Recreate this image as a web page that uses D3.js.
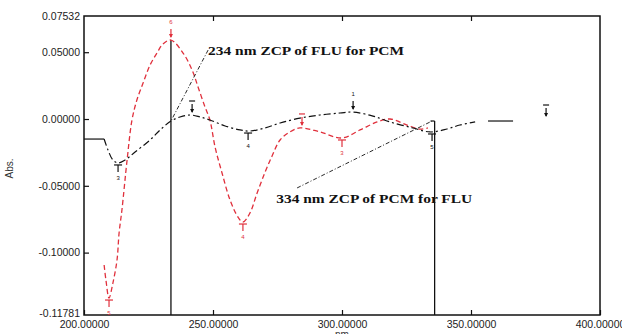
<!DOCTYPE html>
<meta charset="utf-8">
<script src="https://d3js.org/d3.v7.min.js"></script>
<style>
  body { margin: 0; background: #fff; }
  svg text { font-family: "Liberation Sans", Arial, sans-serif; }
</style>
<div id="chart"></div>
<script>
// wavelength (nm) / absorbance
var redNm  = [207.8, 208.5, 209.7, 211.2, 212.8, 213.6, 214.7, 216.7, 218.6, 220.5, 222.9, 225.6, 228.3, 230.6, 233.7,
              238.4, 241.9, 244.2, 246.9, 248.8, 250.8, 253.5, 256.6, 259.7, 261.6, 264.3, 267.1, 270.2, 272.9, 276.0,
              279.8, 283.7, 291.5, 300.0, 307.0, 313.6, 318.6, 325.2, 330.2, 333.3];
var redAbs = [-0.1093, -0.1205, -0.1340, -0.1228, -0.1055, -0.0853, -0.0681, -0.0307, -0.0007, 0.0142, 0.0269, 0.0404, 0.0494, 0.0561, 0.0591,
              0.0494, 0.0367, 0.0240, 0.0090, -0.0007, -0.0210, -0.0404, -0.0606, -0.0734, -0.0771, -0.0704, -0.0554, -0.0397, -0.0277, -0.0157,
              -0.0097, -0.0067, -0.0097, -0.0142, -0.0082, -0.0022, 0.0000, -0.0045, -0.0075, -0.0067];

var blackNm  = [207.8, 209.3, 211.2, 213.2, 215.9, 219.8, 225.6, 229.5, 233.7, 237.2, 241.1, 245.0, 248.8, 254.7, 260.5,
                264.3, 270.2, 276.0, 283.7, 291.5, 299.2, 304.3, 312.0, 318.6, 327.5, 334.1, 340.7, 345.7, 351.6];
var blackAbs = [-0.0150, -0.0232, -0.0307, -0.0329, -0.0307, -0.0247, -0.0157, -0.0082, -0.0015, 0.0015, 0.0030, 0.0015, -0.0007, -0.0052, -0.0082,
                -0.0090, -0.0067, -0.0030, 0.0007, 0.0030, 0.0045, 0.0052, 0.0022, -0.0022, -0.0067, -0.0097, -0.0075, -0.0045, -0.0022];

// solid flat pieces of the black trace
var flatLeftNm = [200, 207.8], flatLeftAbs = [-0.0150, -0.0150];
var flatRightNm = [356.6, 366.3], flatRightAbs = [-0.0015, -0.0015];

// peak pick markers
var redPeakNm   = [233.7, 209.7, 261.6, 284.5, 300.0];
var redPeakAbs  = [0.0591, -0.1340, -0.0771, -0.0067, -0.0142];
var redPeakDir  = ["up", "down", "down", "up", "down"];
var redPeakLbl  = ["6", "5", "4", "2", "3"];
var blackPeakNm  = [213.2, 241.9, 263.6, 304.3, 334.9, 379.1];
var blackPeakAbs = [-0.0329, 0.0030, -0.0090, 0.0052, -0.0097, 0.0000];
var blackPeakDir = ["down", "up", "down", "up", "down", "up"];
var blackPeakLbl = ["3", "2", "4", "1", "5", ""];

// zero crossing lines
var zcpNm  = [233.7, 335.9];
var zcpTop = [0.0591, -0.0015];
var zcpText = ["234 nm ZCP of FLU for PCM", "334 nm ZCP of PCM for FLU"];
var annNm = [248.1, 274.5], annAbs = [0.0476, -0.0629];
// leader line ends: text -> crossing point
var leaderFromNm = [248.1, 282.6], leaderFromAbs = [0.0516, -0.0516];
var leaderToNm = [233.7, 334.9], leaderToAbs = [-0.0015, -0.0015];

// axes
var xTicks = [200, 250, 300, 350, 400];
var xTickLabels = ["200.00000", "250.00000", "300.00000", "350.00000", "400.00000"];
var yMin = -0.1467, yMax = 0.0771;
var yTicks = [yMin, -0.10, -0.05, 0, 0.05, yMax];
var yTickLabels = ["-0.11781", "-0.10000", "-0.05000", "0.00000", "0.05000", "0.07532"];

var W = 622, H = 334;
var margin = { top: 16, right: 22, bottom: 19, left: 84 },
    width = W - margin.left - margin.right,
    height = H - margin.top - margin.bottom;

var svg = d3.select("#chart").append("svg")
    .attr("width", W).attr("height", H)
    .append("g")
    .attr("transform", "translate(" + margin.left + "," + margin.top + ")");

var x = d3.scaleLinear().domain([200, 400]).range([0, width]);
var y = d3.scaleLinear().domain([yMin, yMax]).range([height, 0]);

// axes
svg.append("g")
    .attr("transform", "translate(0," + height + ")")
    .call(d3.axisBottom(x).tickValues(xTicks)
        .tickFormat(function (d, i) { return xTickLabels[i]; })
        .tickSizeInner(-5).tickSizeOuter(0).tickPadding(6));
svg.append("g")
    .call(d3.axisTop(x).tickValues(xTicks.slice(1, 4)).tickFormat("")
        .tickSizeInner(-5).tickSizeOuter(0));
var yAxis = svg.append("g")
    .call(d3.axisLeft(y).tickValues(yTicks)
        .tickFormat(function (d, i) { return yTickLabels[i]; })
        .tickSizeInner(-5).tickSizeOuter(0).tickPadding(4));
svg.selectAll(".domain").remove();
svg.selectAll(".tick line").attr("stroke", "#111").attr("stroke-width", 1.2);
svg.selectAll(".tick text").attr("font-size", 10.5).attr("fill", "#222")
    .attr("font-family", "'Liberation Sans', Arial, sans-serif");
yAxis.selectAll(".tick").filter(function (d) { return d === yMin || d === yMax; })
    .select("line").remove();
yAxis.selectAll(".tick").filter(function (d) { return d === yMin; })
    .select("text").attr("dy", "0.12em");

svg.append("rect")
    .attr("width", width).attr("height", height)
    .attr("fill", "none").attr("stroke", "#111").attr("stroke-width", 1.5);

svg.append("text")
    .attr("transform", "translate(" + (13 - margin.left) + "," + (y(-0.0370)) + ") rotate(-90)")
    .attr("text-anchor", "middle").attr("font-size", 10).attr("fill", "#333")
    .text("Abs.");
svg.append("text")
    .attr("x", x(300)).attr("y", height + 23)
    .attr("text-anchor", "middle").attr("font-size", 10).attr("fill", "#333")
    .text("nm");

var line = d3.line().x(function (d) { return x(d[0]); }).y(function (d) { return y(d[1]); });
var curve = d3.line().curve(d3.curveCatmullRom.alpha(0.5))
    .x(function (d) { return x(d[0]); }).y(function (d) { return y(d[1]); });
function pairs(a, b) { return a.map(function (v, i) { return [v, b[i]]; }); }

// zcp vertical lines
zcpNm.forEach(function (nm, i) {
    svg.append("path")
        .attr("d", line([[nm, zcpTop[i]], [nm, yMin]]))
        .attr("stroke", "#111").attr("stroke-width", 1.3).attr("fill", "none");
});
svg.append("path")
    .attr("d", line([[zcpNm[1] - 1.6, zcpTop[1]], [zcpNm[1], zcpTop[1]]]))
    .attr("stroke", "#111").attr("stroke-width", 1.2);

// traces
svg.append("path").attr("d", curve(pairs(redNm, redAbs)))
    .attr("fill", "none").attr("stroke", "#e0303c").attr("stroke-width", 1.3)
    .attr("stroke-dasharray", "5,3");
svg.append("path").attr("d", curve(pairs(blackNm, blackAbs)))
    .attr("fill", "none").attr("stroke", "#111").attr("stroke-width", 1.2)
    .attr("stroke-dasharray", "7,3,2,3");
[pairs(flatLeftNm, flatLeftAbs), pairs(flatRightNm, flatRightAbs)].forEach(function (p) {
    svg.append("path").attr("d", line(p))
        .attr("fill", "none").attr("stroke", "#111").attr("stroke-width", 1.2);
});

// leader lines
leaderFromNm.forEach(function (nm, i) {
    svg.append("path")
        .attr("d", line([[nm, leaderFromAbs[i]], [leaderToNm[i], leaderToAbs[i]]]))
        .attr("stroke", "#111").attr("stroke-width", 0.9)
        .attr("stroke-dasharray", "4,2,1,2").attr("fill", "none");
});

// annotation text
zcpText.forEach(function (t, i) {
    svg.append("text")
        .attr("x", x(annNm[i])).attr("y", y(annAbs[i]))
        .style("font-family", "'Liberation Serif', 'Times New Roman', serif")
        .attr("font-weight", "bold").attr("font-size", 13.5).attr("fill", "#111")
        .attr("textLength", 196).attr("lengthAdjust", "spacingAndGlyphs")
        .text(t);
});

// peak markers
function markers(nms, abs, dirs, lbls, color) {
    nms.forEach(function (nm, i) {
        var px = x(nm), py = y(abs[i]);
        var g = svg.append("g").attr("transform", "translate(" + px + "," + py + ")");
        if (dirs[i] === "up") {
            g.append("line").attr("x1", 0).attr("x2", 0).attr("y1", -11).attr("y2", -3)
                .attr("stroke", color).attr("stroke-width", 1.2);
            g.append("path").attr("d", "M-2,-6L2,-6L0,-2Z").attr("fill", color);
            g.append("line").attr("x1", -3).attr("x2", 3).attr("y1", -14).attr("y2", -14)
                .attr("stroke", color).attr("stroke-width", 1.2)
                .attr("opacity", lbls[i] === "" || lbls[i] === "2" ? 1 : 0);
            g.append("text").attr("y", -16).attr("text-anchor", "middle")
                .attr("font-size", 6).attr("fill", color).text(lbls[i] === "2" ? "" : lbls[i]);
        } else {
            g.append("line").attr("x1", -4).attr("x2", 4).attr("y1", 2).attr("y2", 2)
                .attr("stroke", color).attr("stroke-width", 1.2);
            g.append("line").attr("x1", 0).attr("x2", 0).attr("y1", 2).attr("y2", 9)
                .attr("stroke", color).attr("stroke-width", 1.2);
            g.append("text").attr("y", 17).attr("text-anchor", "middle")
                .attr("font-size", 6).attr("fill", color).text(lbls[i]);
        }
    });
}
markers(redPeakNm, redPeakAbs, redPeakDir, redPeakLbl, "#e0303c");
markers(blackPeakNm, blackPeakAbs, blackPeakDir, blackPeakLbl, "#111");
</script>
